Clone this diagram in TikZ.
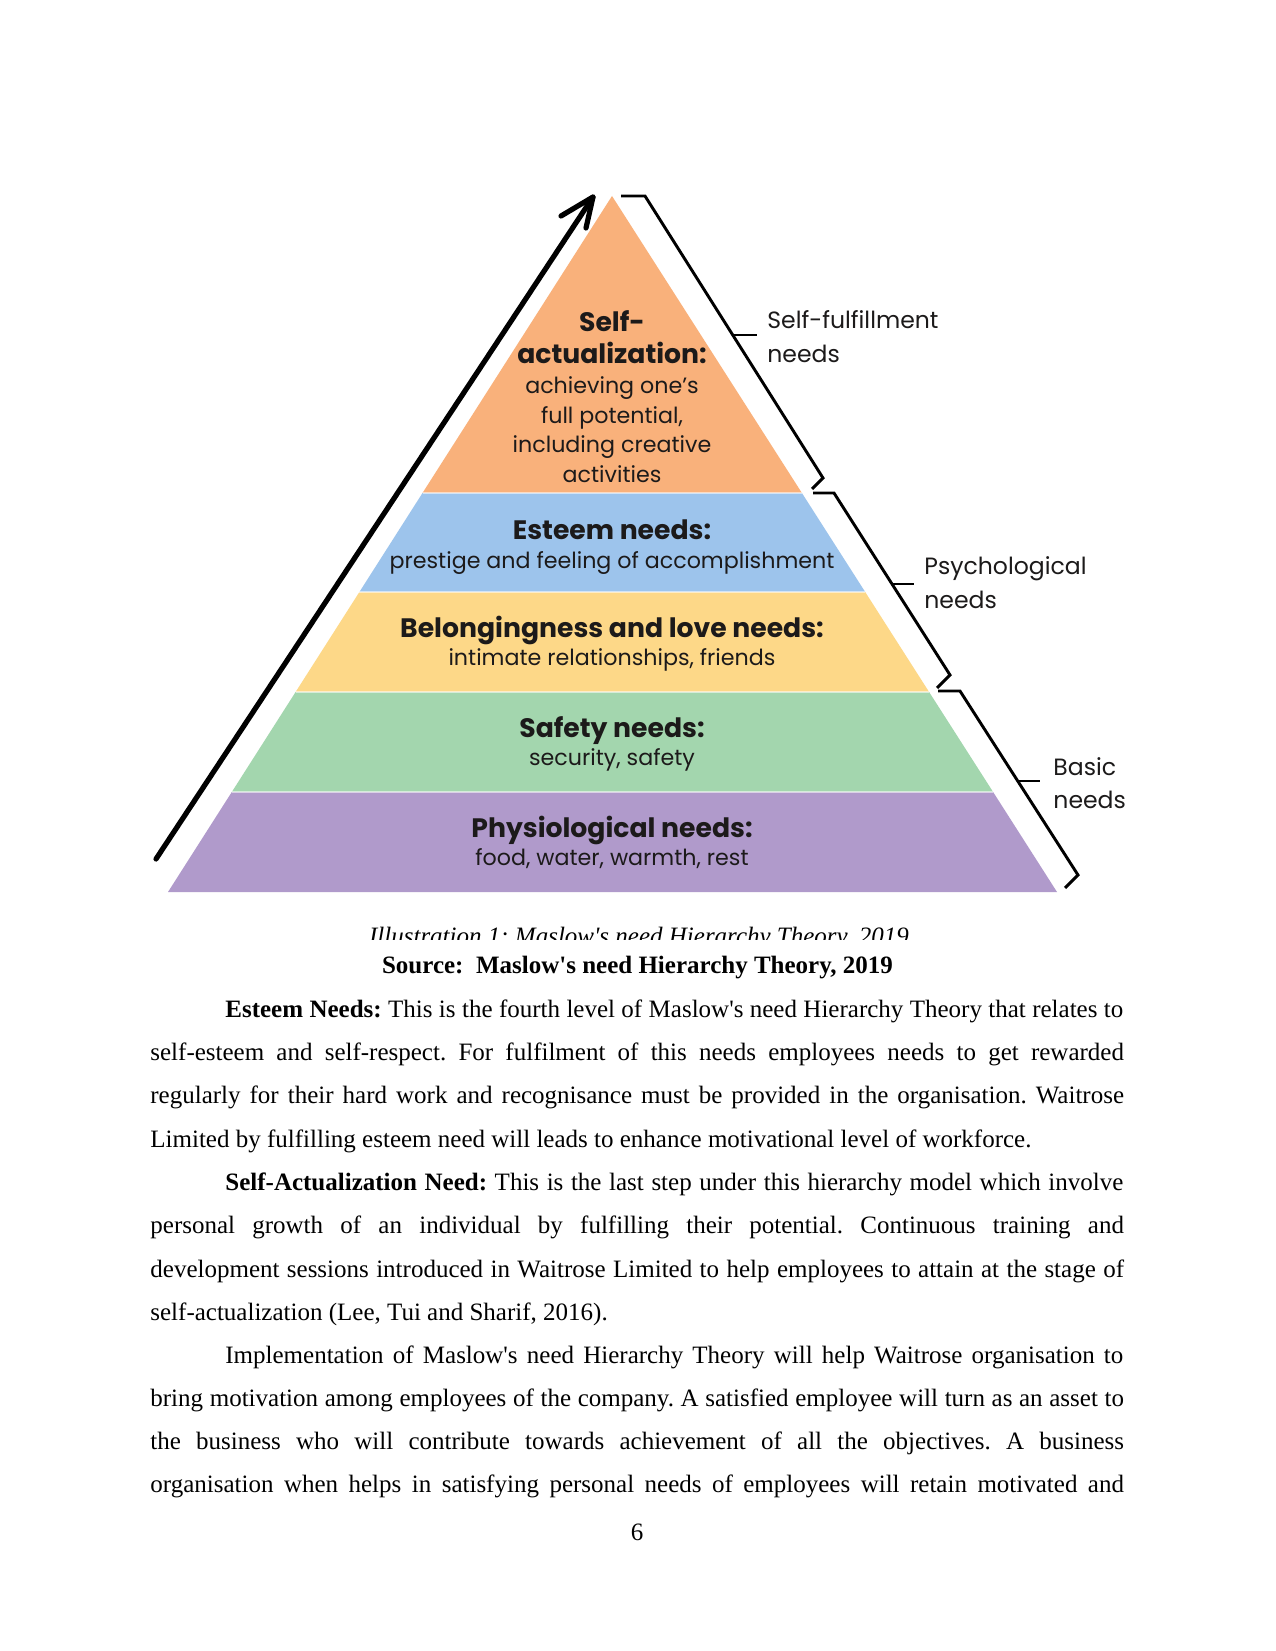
\documentclass[tikz,border=0pt]{standalone}
\usepackage{fontspec}
\setmainfont{Liberation Serif}
\newfontfamily\popfont{Poppins}
\usetikzlibrary{calc}
\frenchspacing
\definecolor{cOrange}{HTML}{F9B17B}
\definecolor{cBlue}{HTML}{9DC4EC}
\definecolor{cYellow}{HTML}{FDD888}
\definecolor{cGreen}{HTML}{A3D6AE}
\definecolor{cPurple}{HTML}{B09ACB}
\definecolor{cInk}{HTML}{1C1A1A}
\tikzset{
  sepline/.style={white, line width=0.9pt, opacity=0.55},
  ptitle/.style={font=\popfont\bfseries\fontsize{12.8}{14}\selectfont, anchor=base, inner sep=0pt, text=cInk},
  ptext/.style={font=\popfont\fontsize{10.65}{13}\selectfont, anchor=base, inner sep=0pt, text=cInk},
  sidelabel/.style={font=\popfont\fontsize{11.3}{14}\selectfont, anchor=base west, inner sep=0pt, text=cInk},
  bracepath/.style={line width=1.4pt, line join=miter, line cap=butt},
  growth/.style={line width=2.5pt, line cap=round, line join=round},
  body/.style={font=\fontsize{12}{14}\selectfont\frenchspacing, anchor=base west, inner sep=0pt},
  bodyc/.style={font=\fontsize{12}{14}\selectfont\frenchspacing, anchor=base, inner sep=0pt},
}
\newcommand{\ap}{\textquotesingle}
\newcommand{\jline}[2]{\makebox[#1][s]{#2}}
\begin{document}
\begin{tikzpicture}[x=0.48pt,y=-0.48pt]
\useasboundingbox (0,0) rectangle (1275,1651);
\fill[white] (0,0) rectangle (1275,1651);

% pyramid corners
\coordinate (apex) at (612,196);
\coordinate (l1) at (422.5,493); \coordinate (r1) at (801.9,493);
\coordinate (l2) at (359.4,592); \coordinate (r2) at (865.2,592);
\coordinate (l3) at (295.6,692); \coordinate (r3) at (929.1,692);
\coordinate (l4) at (231.8,792); \coordinate (r4) at (993.1,792);
\coordinate (l5) at (168,892);   \coordinate (r5) at (1057,892);

\fill[cOrange] (apex) -- (r1) -- (l1) -- cycle;
\fill[cBlue] (l1) -- (r1) -- (r2) -- (l2) -- cycle;
\fill[cYellow] (l2) -- (r2) -- (r3) -- (l3) -- cycle;
\fill[cGreen] (l3) -- (r3) -- (r4) -- (l4) -- cycle;
\fill[cPurple] (l4) -- (r4) -- (r5) -- (l5) -- cycle;
\draw[sepline] (l1) -- (r1);
\draw[sepline] (l2) -- (r2);
\draw[sepline] (l3) -- (r3);
\draw[sepline] (l4) -- (r4);

% growth arrow
\coordinate (arrS) at (156,859);
\coordinate (arrT) at (593,197);
\coordinate (barbA) at (561,216);
\coordinate (barbB) at (586,228);
\draw[growth] (arrS) -- (arrT);
\draw[growth] (barbA) -- (arrT) -- (barbB);

% braces
\coordinate (b1a) at (621,196); \coordinate (b1b) at (645,196);
\coordinate (b1c) at (823,478); \coordinate (b1d) at (812,489);
\coordinate (b1m) at (732.7,335); \coordinate (b1t) at (757,335);
\draw[bracepath] (b1a) -- (b1b) -- (b1c) -- (b1d);
\draw[bracepath] (b1m) -- (b1t);

\coordinate (b2a) at (813,493); \coordinate (b2b) at (834,493);
\coordinate (b2c) at (950,675); \coordinate (b2d) at (937,688);
\coordinate (b2m) at (892,584); \coordinate (b2t) at (914,584);
\draw[bracepath] (b2a) -- (b2b) -- (b2c) -- (b2d);
\draw[bracepath] (b2m) -- (b2t);

\coordinate (b3a) at (938,691); \coordinate (b3b) at (960,691);
\coordinate (b3c) at (1078,875); \coordinate (b3d) at (1065,888);
\coordinate (b3m) at (1017.7,781); \coordinate (b3t) at (1040,781);
\draw[bracepath] (b3a) -- (b3b) -- (b3c) -- (b3d);
\draw[bracepath] (b3m) -- (b3t);

% side labels
\node[sidelabel] (sf1) at (767,328) {Self-fulfillment};
\node[sidelabel] (sf2) at (767,362) {needs};
\node[sidelabel] (ps1) at (924,574) {Psychological};
\node[sidelabel] (ps2) at (924,608) {needs};
\node[sidelabel] (bs1) at (1053,775) {Basic};
\node[sidelabel] (bs2) at (1053,808) {needs};

% pyramid texts
\node[ptitle] (sa1) at (612,331) {Self-};
\node[ptitle] (sa2) at (612,363) {actualization:};
\node[ptext] (sa3) at (612,393) {achieving one’s};
\node[ptext] (sa4) at (612,423) {full potential,};
\node[ptext] (sa5) at (612,452) {including creative};
\node[ptext] (sa6) at (612,482) {activities};
\node[ptitle] (es1) at (612,539) {Esteem needs:};
\node[ptext] (es2) at (612,568) {prestige and feeling of accomplishment};
\node[ptitle] (be1) at (612,637) {Belongingness and love needs:};
\node[ptext] (be2) at (612,665) {intimate relationships, friends};
\node[ptitle] (sn1) at (612,737) {Safety needs:};
\node[ptext] (sn2) at (612,765) {security, safety};
\node[ptitle] (ph1) at (612,837) {Physiological needs:};
\node[ptext] (ph2) at (612,865) {food, water, warmth, rest};

% clipped caption
\begin{scope}
\clip (300,900) rectangle (1000,939);
\node[bodyc, font=\fontsize{12}{14}\selectfont\itshape] (cap) at (639,944) {Illustration 1: Maslow\ap s need Hierarchy Theory, 2019};
\end{scope}

% body text
\node[bodyc, font=\fontsize{12}{14}\selectfont\bfseries] (src) at (637.5,973) {Source:\ \ Maslow\ap s need Hierarchy Theory, 2019};

\node[body] (p1l1) at (225,1017) {\jline{431pt}{\textbf{Esteem Needs:} This is the fourth level of Maslow\ap s need Hierarchy Theory that relates to}};
\node[body] (p1l2) at (150,1060) {\jline{467.3pt}{self-esteem and self-respect. For fulfilment of this needs employees needs to get rewarded}};
\node[body] (p1l3) at (150,1103) {\jline{467.3pt}{regularly for their hard work and recognisance must be provided in the organisation. Waitrose}};
\node[body] (p1l4) at (150,1147) {Limited by fulfilling esteem need will leads to enhance motivational level of workforce.};

\node[body] (p2l1) at (225,1190) {\jline{431pt}{\textbf{Self-Actualization Need:} This is the last step under this hierarchy model which involve}};
\node[body] (p2l2) at (150,1233) {\jline{467.3pt}{personal growth of an individual by fulfilling their potential. Continuous training and}};
\node[body] (p2l3) at (150,1277) {\jline{467.3pt}{development sessions introduced in Waitrose Limited to help employees to attain at the stage of}};
\node[body] (p2l4) at (150,1320) {self-actualization (Lee, Tui and Sharif, 2016).};

\node[body] (p3l1) at (225,1363) {\jline{431pt}{Implementation of Maslow\ap s need Hierarchy Theory will help Waitrose organisation to}};
\node[body] (p3l2) at (150,1406) {\jline{467.3pt}{bring motivation among employees of the company. A satisfied employee will turn as an asset to}};
\node[body] (p3l3) at (150,1449) {\jline{467.3pt}{the business who will contribute towards achievement of all the objectives. A business}};
\node[body] (p3l4) at (150,1492) {\jline{467.3pt}{organisation when helps in satisfying personal needs of employees will retain motivated and}};

\node[bodyc] (pg) at (637,1540) {6};
\end{tikzpicture}
\end{document}
